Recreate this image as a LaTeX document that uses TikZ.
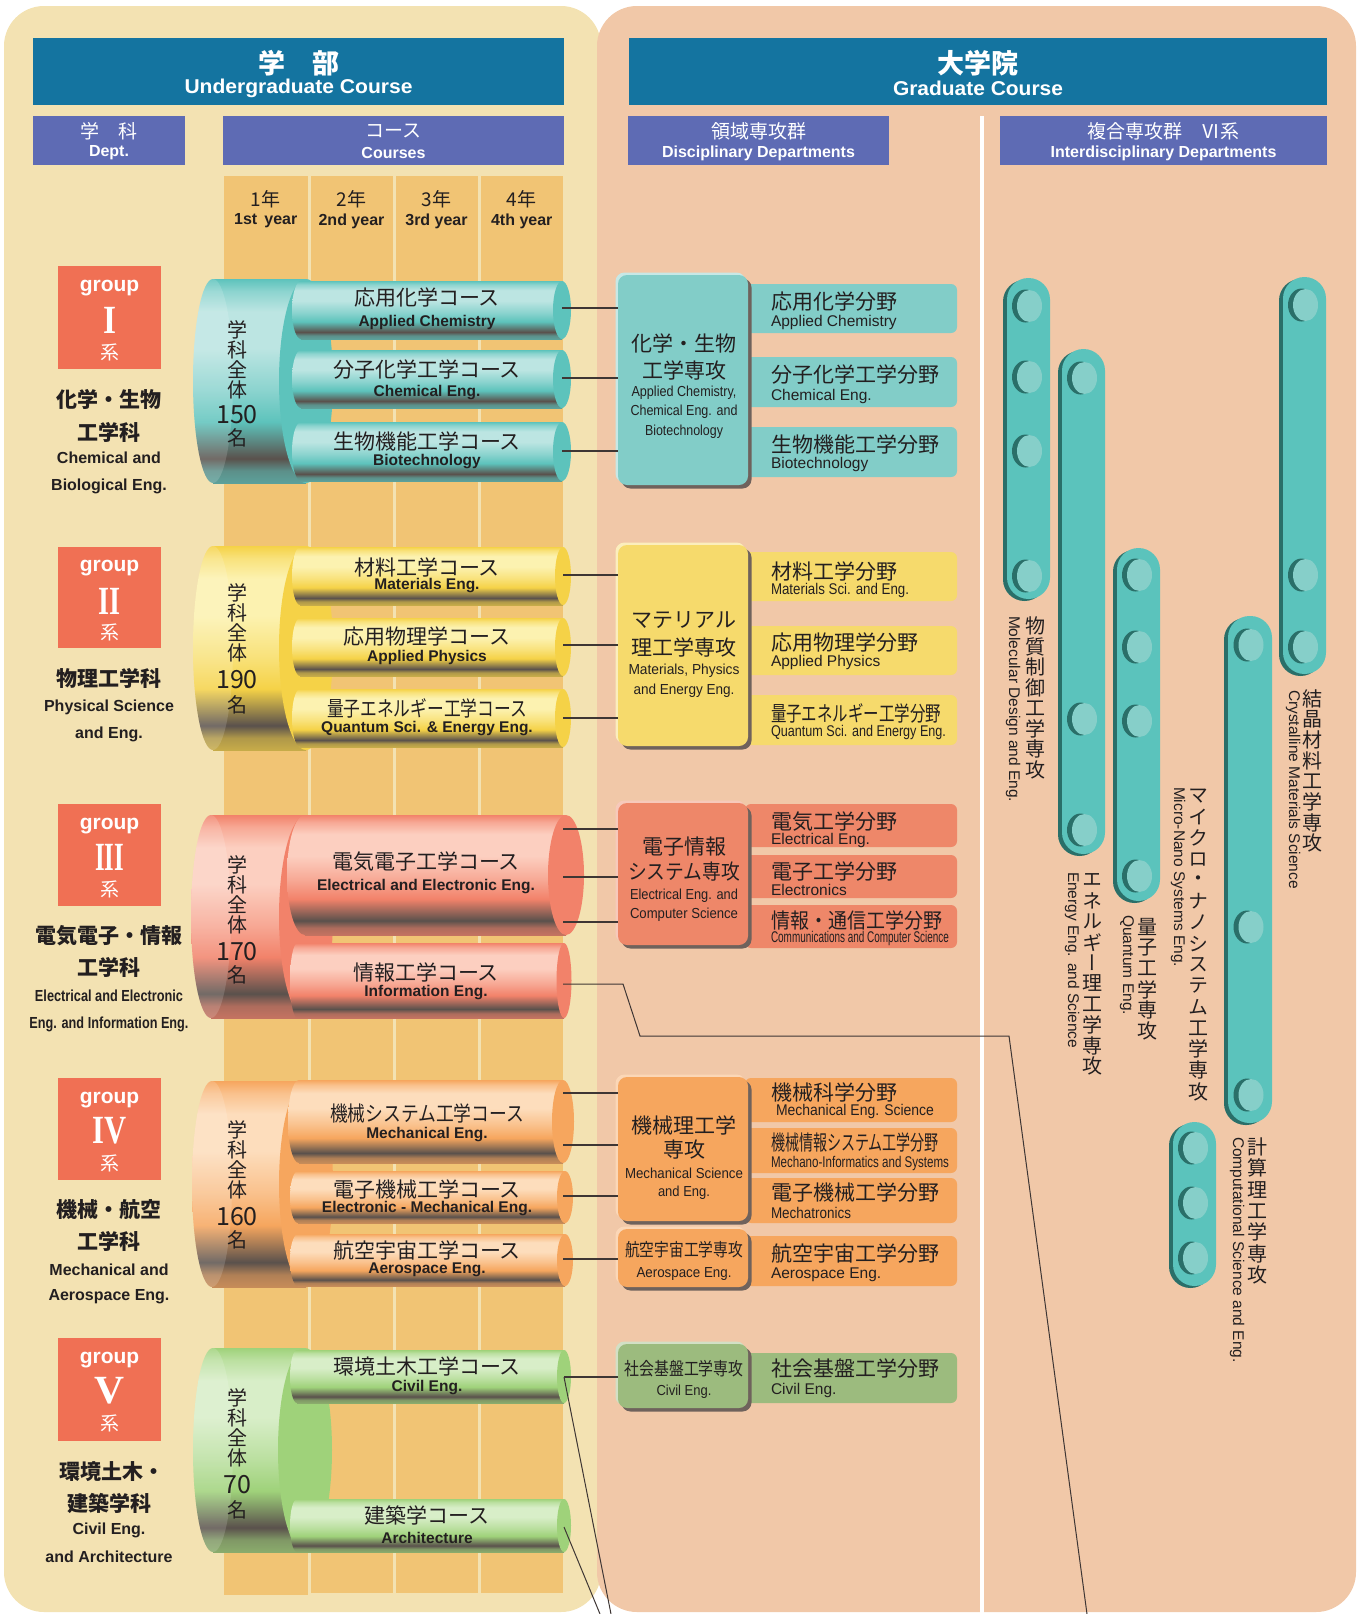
\documentclass[tikz,border=0pt]{standalone}
\usepackage{fontspec}
\usepackage{graphicx}
\setmainfont{Liberation Sans}
\newfontfamily\jp{Noto Sans CJK JP}
\newfontfamily\jpv[RawFeature=+vert]{Noto Sans CJK JP}
\newfontfamily\rmserif{Liberation Serif}
\usetikzlibrary{shadows}

\newcommand\fw[2]{\resizebox{#1}{\height}{#2}}

\definecolor{cream}{HTML}{F3E2B2}
\definecolor{peach}{HTML}{F1C8A8}
\definecolor{hblue}{HTML}{1474A0}
\definecolor{hpurple}{HTML}{5E6BB4}
\definecolor{yearc}{HTML}{F1C474}
\definecolor{grpc}{HTML}{F07054}
\definecolor{ink}{HTML}{231F20}
\definecolor{lnc}{HTML}{3E3634}
\definecolor{cdark}{HTML}{5A514C}
\definecolor{IbaseC}{HTML}{5DC3BC}\definecolor{IlightC}{HTML}{BCE5E2}
\definecolor{IIbaseC}{HTML}{F5D247}\definecolor{IIlightC}{HTML}{FCF2B0}
\definecolor{IIIbaseC}{HTML}{F2826A}\definecolor{IIIlightC}{HTML}{FCCFC0}
\definecolor{IVbaseC}{HTML}{F6A65E}\definecolor{IVlightC}{HTML}{FDDDBC}
\definecolor{VbaseC}{HTML}{9FD27A}\definecolor{VlightC}{HTML}{D8EEC8}
\definecolor{IboxC}{HTML}{82CDC8}
\definecolor{IIboxC}{HTML}{F6DA6C}
\definecolor{IIIboxC}{HTML}{EE8769}
\definecolor{IVboxC}{HTML}{F6A65E}
\definecolor{VboxC}{HTML}{9CBB7E}
\definecolor{boxsh}{HTML}{6F625C}
\definecolor{barC}{HTML}{5BC3BC}
\definecolor{barD}{HTML}{2A6F69}
\definecolor{barL}{HTML}{86CFC9}

\newcommand\declcyl[3]{\pgfdeclareverticalshading{#1}{100bp}{%
 color(0bp)=(#2!70!cdark); color(25bp)=(#2!70!cdark); color(28bp)=(#2!55!cdark);
 color(31bp)=(cdark); color(35bp)=(#2!45!cdark); color(40bp)=(#2);
 color(48bp)=(#3!50!#2); color(58bp)=(#3); color(67bp)=(#3);
 color(72bp)=(#3!50!#2); color(75bp)=(#2); color(100bp)=(#2)}}
\declcyl{cylI}{IbaseC}{IlightC}
\declcyl{cylII}{IIbaseC}{IIlightC}
\declcyl{cylIII}{IIIbaseC}{IIIlightC}
\declcyl{cylIV}{IVbaseC}{IVlightC}
\declcyl{cylV}{VbaseC}{VlightC}

% shading, base, xleft, xcap, top, bottom, rx
\newcommand\course[7]{%
  \shade[shading=#1] (#3+#7,#5) rectangle (#4,#6);
  \shade[shading=#1] ({#3+#7},{(#5+#6)/2}) ellipse [x radius=#7, y radius={(#6-#5)/2}];
  \fill[#2] (#4,{(#5+#6)/2}) ellipse [x radius=#7, y radius={(#6-#5)/2}];}
% shading, base, cxL, rxL, cxR, top, bottom
\newcommand\bigcyl[7]{%
  \shade[shading=#1] (#3,#6) rectangle (#5,#7);
  \shade[shading=#1] (#3,{(#6+#7)/2}) ellipse [x radius=#4, y radius={(#7-#6)/2}];
  \fill[white, opacity=0.15] (#3,{(#6+#7)/2}) ellipse [x radius=#4, y radius={(#7-#6)/2}];
  \fill[#2] (#5,{(#6+#7)/2}) ellipse [x radius=27, y radius={(#7-#6)/2}];}
% xa, xb, top, bottom
\newcommand\vbar[4]{%
  \fill[barD, rounded corners=21.5pt] (#1,#3+2) rectangle (#2-4,#4);
  \fill[barC, rounded corners=21.5pt] (#1+4,#3) rectangle (#2,#4-2);}
\newcommand\bdot[2]{%
  \fill[barD] (#1-3,#2) ellipse [x radius=13.5, y radius=16.5];
  \fill[barL] (#1+1,#2) ellipse [x radius=12.5, y radius=16];}

\begin{document}
\begin{tikzpicture}[x=1pt,y=-1pt,
 every node/.style={inner sep=0pt, outer sep=0pt, text=ink},
 conn/.style={draw=lnc, line width=1.4pt},
 thinconn/.style={draw=lnc, line width=1pt},
 hdrbox/.style={fill=hblue, minimum width=#1, minimum height=67pt},
 subbox/.style={fill=hpurple, minimum width=#1, minimum height=49pt},
 hjp/.style={text=white, font=\jp\bfseries\fontsize{27}{27}\selectfont},
 hen/.style={text=white, font=\bfseries\fontsize{20}{20}\selectfont},
 sjp/.style={text=white, font=\jp\fontsize{19}{19}\selectfont},
 sen/.style={text=white, font=\bfseries\fontsize{16}{16}\selectfont},
 yjp/.style={font=\jp\fontsize{19}{19}\selectfont},
 yen/.style={font=\bfseries\fontsize{16}{16}\selectfont},
 grpbox/.style={fill=grpc, minimum width=103pt, minimum height=#1},
 gword/.style={text=white, font=\bfseries\fontsize{21}{21}\selectfont},
 gnum/.style={text=white, font=\rmserif\bfseries\fontsize{40}{40}\selectfont},
 gkei/.style={text=white, font=\jp\fontsize{19}{19}\selectfont},
 djp/.style={font=\jp\bfseries\fontsize{21}{21}\selectfont},
 den/.style={font=\bfseries\fontsize{16}{16}\selectfont},
 vnum/.style={font=\jp\fontsize{20}{20}\selectfont},
 vdig/.style={font=\jp\fontsize{25}{25}\selectfont},
 cjp/.style={font=\jp\fontsize{21}{21}\selectfont},
 cen/.style={font=\bfseries\fontsize{15.5}{15.5}\selectfont},
 majbox/.style={fill=#1, rounded corners=9pt, minimum width=130pt,
   general shadow={shadow xshift=-2.5pt, shadow yshift=2.5pt, fill=#1!45!white},
   general shadow={shadow xshift=3.5pt, shadow yshift=-3.5pt, fill=boxsh}},
 fldbox/.style={fill=#1, rounded corners=6pt, minimum width=212pt},
 mjp/.style={font=\jp\fontsize{21}{21}\selectfont},
 msjp/.style={font=\jp\fontsize{18}{18}\selectfont},
 men/.style={font=\fontsize{14.5}{14.5}\selectfont},
 fjp/.style={anchor=west, font=\jp\fontsize{21}{21}\selectfont},
 fen/.style={anchor=west, font=\fontsize{15.5}{15.5}\selectfont},
 vjp/.style={font=\jpv\fontsize{20}{20}\selectfont},
 ven/.style={rotate=-90, anchor=west, font=\fontsize{15.5}{15.5}\selectfont}]
\useasboundingbox (0,0) rectangle (1359,1614);

% panels
\fill[cream, rounded corners=40pt] (4,6) rectangle (601,1612);
\fill[peach, rounded corners=40pt] (597,6) rectangle (1356,1612);
\fill[white] (980,116) rectangle (984,1614);

% headers
\node[hdrbox=531pt] (hU) at (298.5,71.5) {};
\node[hjp] (hUj) at (298.5,63) {学　部};
\node[hen] (hUe) at (298.5,88) {\fw{228pt}{Undergraduate Course}};
\node[hdrbox=698pt] (hG) at (978,71.5) {};
\node[hjp] (hGj) at (978,63) {大学院};
\node[hen] (hGe) at (978,88) {\fw{170pt}{Graduate Course}};

\node[subbox=152pt] (sD) at (109,140.5) {};
\node[sjp] (sDj) at (109,131) {学　科};
\node[sen] (sDe) at (109,153) {Dept.};
\node[subbox=341pt] (sC) at (393.5,140.5) {};
\node[sjp] (sCj) at (393.5,131) {コース};
\node[sen] (sCe) at (393.5,153) {Courses};
\node[subbox=261pt] (sR) at (758.5,140.5) {};
\node[sjp] (sRj) at (758.5,131) {領域専攻群};
\node[sen] (sRe) at (758.5,153) {Disciplinary Departments};
\node[subbox=327pt] (sF) at (1163.5,140.5) {};
\node[sjp] (sFj) at (1163.5,131) {複合専攻群　Ⅵ系};
\node[sen] (sFe) at (1163.5,153) {Interdisciplinary Departments};

% year columns
\fill[yearc] (224,176) rectangle (307.5,1595);
\fill[yearc] (310.5,176) rectangle (392.5,1593);
\fill[yearc] (395.5,176) rectangle (477.5,1593);
\fill[yearc] (480.5,176) rectangle (563,1593);
\node[yjp] (y1j) at (265.75,199) {1年};
\node[yen] (y1e) at (265.75,221) {1st\hspace{0.45em}year};
\node[yjp] (y2j) at (351.5,199) {2年};
\node[yen] (y2e) at (351.5,221) {2nd year};
\node[yjp] (y3j) at (436.5,199) {3年};
\node[yen] (y3e) at (436.5,221) {3rd year};
\node[yjp] (y4j) at (521.75,199) {4年};
\node[yen] (y4e) at (521.75,221) {4th year};

% group boxes
\node[grpbox=103pt] (g1) at (109.5,317.5) {};
\node[gword] (g1a) at (109.5,288) {group};
\node[gnum] (g1b) at (109.5,320) {\fw{13pt}{I}};
\node[gkei] (g1c) at (109.5,352) {系};
\node[grpbox=101pt] (g2) at (109.5,597.5) {};
\node[gword] (g2a) at (109.5,568) {group};
\node[gnum] (g2b) at (109.5,601) {\fw{22pt}{II}};
\node[gkei] (g2c) at (109.5,632) {系};
\node[grpbox=102pt] (g3) at (109.5,855) {};
\node[gword] (g3a) at (109.5,826) {group};
\node[gnum] (g3b) at (109.5,857) {\fw{29pt}{III}};
\node[gkei] (g3c) at (109.5,889) {系};
\node[grpbox=102pt] (g4) at (109.5,1129) {};
\node[gword] (g4a) at (109.5,1100) {group};
\node[gnum] (g4b) at (109.5,1131) {\fw{34pt}{IV}};
\node[gkei] (g4c) at (109.5,1163) {系};
\node[grpbox=103pt] (g5) at (109.5,1389.5) {};
\node[gword] (g5a) at (109.5,1360) {group};
\node[gnum] (g5b) at (109.5,1391) {\fw{30pt}{V}};
\node[gkei] (g5c) at (109.5,1423) {系};

% department labels
\node[djp] (d1a) at (109,399) {化学・生物};
\node[djp] (d1b) at (109,432) {工学科};
\node[den] (d1c) at (109,458) {Chemical and};
\node[den] (d1d) at (109,486) {Biological Eng.};
\node[djp] (d2a) at (109,678) {物理工学科};
\node[den] (d2b) at (109,707) {Physical Science};
\node[den] (d2c) at (109,734) {and Eng.};
\node[djp] (d3a) at (109,936) {電気電子・情報};
\node[djp] (d3b) at (109,967) {工学科};
\node[den] (d3c) at (109,996) {\fw{148pt}{Electrical and Electronic}};
\node[den] (d3d) at (109,1024) {\fw{159pt}{Eng. and Information Eng.}};
\node[djp] (d4a) at (109,1210) {機械・航空};
\node[djp] (d4b) at (109,1241) {工学科};
\node[den] (d4c) at (109,1270) {Mechanical and};
\node[den] (d4d) at (109,1297) {Aerospace Eng.};
\node[djp] (d5a) at (112,1472) {環境土木・};
\node[djp] (d5b) at (109,1503) {建築学科};
\node[den] (d5c) at (109,1530) {Civil Eng.};
\node[den] (d5d) at (109,1557) {and Architecture};

% big cylinders
\bigcyl{cylI}{IbaseC}{213}{20}{306}{279}{483}
\bigcyl{cylII}{IIbaseC}{213}{20}{306}{546}{750}
\bigcyl{cylIII}{IIIbaseC}{211}{20}{306}{815}{1018}
\bigcyl{cylIV}{IVbaseC}{212}{20}{306}{1081}{1287}
\bigcyl{cylV}{VbaseC}{213}{20}{305}{1348}{1552}

\foreach \c [count=\i from 0] in {学,科,全,体} {\node[vnum] (nI\i) at (237,330+20*\i) {\c};}
\node[vdig] (nIn) at (237,415) {150};
\node[vnum] (nIm) at (237,438) {名};
\foreach \c [count=\i from 0] in {学,科,全,体} {\node[vnum] (nII\i) at (237,593+20*\i) {\c};}
\node[vdig] (nIIn) at (237,680) {190};
\node[vnum] (nIIm) at (237,705) {名};
\foreach \c [count=\i from 0] in {学,科,全,体} {\node[vnum] (nIII\i) at (237,865+20*\i) {\c};}
\node[vdig] (nIIIn) at (237,952) {170};
\node[vnum] (nIIIm) at (237,975) {名};
\foreach \c [count=\i from 0] in {学,科,全,体} {\node[vnum] (nIV\i) at (237,1130+20*\i) {\c};}
\node[vdig] (nIVn) at (237,1217) {160};
\node[vnum] (nIVm) at (237,1240) {名};
\foreach \c [count=\i from 0] in {学,科,全,体} {\node[vnum] (nV\i) at (237,1398+20*\i) {\c};}
\node[vdig] (nVn) at (237,1485) {70};
\node[vnum] (nVm) at (237,1510) {名};

% course cylinders
\course{cylI}{IbaseC}{292}{562}{281}{339}{9}
\course{cylI}{IbaseC}{292}{562}{350}{408}{9}
\course{cylI}{IbaseC}{292}{562}{422}{481}{9}
\node[cjp] (cI1j) at (427,298) {応用化学コース};
\node[cen] (cI1e) at (427,322) {Applied Chemistry};
\node[cjp] (cI2j) at (427,370) {分子化学工学コース};
\node[cen] (cI2e) at (427,393) {Chemical Eng.};
\node[cjp] (cI3j) at (427,441) {生物機能工学コース};
\node[cen] (cI3e) at (427,462) {Biotechnology};

\course{cylII}{IIbaseC}{292}{563}{547}{605}{8}
\course{cylII}{IIbaseC}{292}{563}{618}{676}{8}
\course{cylII}{IIbaseC}{292}{563}{689}{747}{8}
\node[cjp] (cII1j) at (427,567) {材料工学コース};
\node[cen] (cII1e) at (427,586) {Materials Eng.};
\node[cjp] (cII2j) at (427,637) {応用物理学コース};
\node[cen] (cII2e) at (427,657) {Applied Physics};
\node[cjp] (cII3j) at (427,708) {\fw{200pt}{量子エネルギー工学コース}};
\node[cen] (cII3e) at (427,729) {Quantum Sci. \& Energy Eng.};

\course{cylIII}{IIIbaseC}{287}{566}{815}{935}{18}
\course{cylIII}{IIIbaseC}{290}{564}{943}{1018}{7.5}
\node[cjp] (cIII1j) at (426,862) {電気電子工学コース};
\node[cen] (cIII1e) at (426,887) {Electrical and Electronic Eng.};
\node[cjp] (cIII2j) at (426,972) {情報工学コース};
\node[cen] (cIII2e) at (426,993) {Information Eng.};

\course{cylIV}{IVbaseC}{288}{563}{1080}{1163}{11}
\course{cylIV}{IVbaseC}{290}{565}{1171}{1223}{8}
\course{cylIV}{IVbaseC}{290}{565}{1234}{1286}{8}
\node[cjp] (cIV1j) at (427,1113) {\fw{194pt}{機械システム工学コース}};
\node[cen] (cIV1e) at (427,1135) {Mechanical Eng.};
\node[cjp] (cIV2j) at (427,1189) {電子機械工学コース};
\node[cen] (cIV2e) at (427,1209) {Electronic - Mechanical Eng.};
\node[cjp] (cIV3j) at (427,1250) {航空宇宙工学コース};
\node[cen] (cIV3e) at (427,1270) {Aerospace Eng.};

\course{cylV}{VbaseC}{290}{564}{1350}{1403}{7}
\course{cylV}{VbaseC}{290}{564}{1499}{1552}{7}
\node[cjp] (cV1j) at (427,1366) {環境土木工学コース};
\node[cen] (cV1e) at (427,1388) {Civil Eng.};
\node[cjp] (cV2j) at (427,1515) {建築学コース};
\node[cen] (cV2e) at (427,1538) {Architecture};

% connector anchor points
\coordinate (kI1) at (562,308);
\coordinate (kI2) at (562,378);
\coordinate (kI3) at (562,451);
\coordinate (kII1) at (563,575);
\coordinate (kII2) at (563,645);
\coordinate (kII3) at (563,718);
\coordinate (kIII1) at (563,829);
\coordinate (kIII2) at (563,877);
\coordinate (kIII3) at (563,922);
\coordinate (kIII4) at (563,984);
\coordinate (kIV1) at (563,1093);
\coordinate (kIV2) at (563,1145);
\coordinate (kIV3) at (563,1196);
\coordinate (kIV4) at (563,1259);
\coordinate (kV1) at (564,1377);
\coordinate (kV2) at (564,1527);
\coordinate (bA1) at (623,984);
\coordinate (bA2) at (640,1036);
\coordinate (bA3) at (1009,1036);
\coordinate (eA) at (1087,1614);
\coordinate (eB) at (611,1614);
\coordinate (eC) at (600,1614);

% field boxes
\node[fldbox=IboxC, minimum height=49pt] (fI1) at (851,308.5) {};
\node[fldbox=IboxC, minimum height=50pt] (fI2) at (851,382) {};
\node[fldbox=IboxC, minimum height=50pt] (fI3) at (851,452) {};
\node[fldbox=IIboxC, minimum height=49pt] (fII1) at (851,576.5) {};
\node[fldbox=IIboxC, minimum height=49pt] (fII2) at (851,650.5) {};
\node[fldbox=IIboxC, minimum height=50pt] (fII3) at (851,720) {};
\node[fldbox=IIIboxC, minimum height=43pt] (fIII1) at (851,825.5) {};
\node[fldbox=IIIboxC, minimum height=43pt] (fIII2) at (851,876.5) {};
\node[fldbox=IIIboxC, minimum height=43pt] (fIII3) at (851,926.5) {};
\node[fldbox=IVboxC, minimum height=44pt] (fIV1) at (851,1100) {};
\node[fldbox=IVboxC, minimum height=45pt] (fIV2) at (851,1150.5) {};
\node[fldbox=IVboxC, minimum height=45pt] (fIV3) at (851,1200.5) {};
\node[fldbox=IVboxC, minimum height=50pt] (fA) at (851,1261) {};
\node[fldbox=VboxC, minimum height=50pt] (fV) at (851,1378) {};

% major boxes
\node[majbox=IboxC, minimum height=210pt] (mI) at (683,380) {};
\node[majbox=IIboxC, minimum height=201pt] (mII) at (683,645.5) {};
\node[majbox=IIIboxC, minimum height=142pt] (mIII) at (683,874) {};
\node[majbox=IVboxC, minimum height=144pt] (mIV) at (683,1149) {};
\node[majbox=IVboxC, minimum height=58pt] (mA) at (683,1258) {};
\node[majbox=VboxC, minimum height=64pt] (mV) at (683,1376) {};

% connectors
\draw[conn] (kI1) -- (kI1 -| mI.west);
\draw[conn] (kI2) -- (kI2 -| mI.west);
\draw[conn] (kI3) -- (kI3 -| mI.west);
\draw[conn] (kII1) -- (kII1 -| mII.west);
\draw[conn] (kII2) -- (kII2 -| mII.west);
\draw[conn] (kII3) -- (kII3 -| mII.west);
\draw[conn] (kIII1) -- (kIII1 -| mIII.west);
\draw[conn] (kIII2) -- (kIII2 -| mIII.west);
\draw[conn] (kIII3) -- (kIII3 -| mIII.west);
\draw[conn] (kIV1) -- (kIV1 -| mIV.west);
\draw[conn] (kIV2) -- (kIV2 -| mIV.west);
\draw[conn] (kIV3) -- (kIV3 -| mIV.west);
\draw[conn] (kIV4) -- (kIV4 -| mA.west);
\draw[conn] (kV1) -- (kV1 -| mV.west);

% major texts
\node[mjp] (tI1) at (684,343) {化学・生物};
\node[mjp] (tI2) at (684,370) {工学専攻};
\node[men] (tI3) at (684,393) {\fw{105pt}{Applied Chemistry,}};
\node[men] (tI4) at (684,412) {\fw{107pt}{Chemical Eng. and}};
\node[men] (tI5) at (684,432) {\fw{78pt}{Biotechnology}};
\node[mjp] (tII1) at (684,620) {マテリアル};
\node[mjp] (tII2) at (684,647) {理工学専攻};
\node[men] (tII3) at (684,671) {\fw{111pt}{Materials, Physics}};
\node[men] (tII4) at (684,691) {\fw{101pt}{and Energy Eng.}};
\node[mjp] (tIII1) at (684,847) {電子情報};
\node[mjp] (tIII2) at (684,872) {\fw{112pt}{システム専攻}};
\node[men] (tIII3) at (684,896) {\fw{108pt}{Electrical Eng. and}};
\node[men] (tIII4) at (684,915) {\fw{108pt}{Computer Science}};
\node[mjp] (tIV1) at (684,1125) {機械理工学};
\node[mjp] (tIV2) at (684,1150) {専攻};
\node[men] (tIV3) at (684,1173) {\fw{118pt}{Mechanical Science}};
\node[men] (tIV4) at (684,1193) {\fw{52pt}{and Eng.}};
\node[msjp] (tA1) at (684,1250) {\fw{118pt}{航空宇宙工学専攻}};
\node[men] (tA2) at (684,1274) {\fw{95pt}{Aerospace Eng.}};
\node[msjp] (tV1) at (684,1369) {\fw{119pt}{社会基盤工学専攻}};
\node[men] (tV2) at (684,1392) {\fw{55pt}{Civil Eng.}};

% field texts
\node[fjp] (uI1) at (771,302) {応用化学分野};
\node[fen] (uI1e) at (771,322) {Applied Chemistry};
\node[fjp] (uI2) at (771,375) {分子化学工学分野};
\node[fen] (uI2e) at (771,396) {Chemical Eng.};
\node[fjp] (uI3) at (771,445) {生物機能工学分野};
\node[fen] (uI3e) at (771,464) {Biotechnology};
\node[fjp] (uII1) at (771,572) {材料工学分野};
\node[fen] (uII1e) at (771,590) {\fw{138pt}{Materials Sci. and Eng.}};
\node[fjp] (uII2) at (771,643) {応用物理学分野};
\node[fen] (uII2e) at (771,662) {Applied Physics};
\node[fjp] (uII3) at (771,713) {\fw{170pt}{量子エネルギー工学分野}};
\node[fen] (uII3e) at (771,732) {\fw{175pt}{Quantum Sci. and Energy Eng.}};
\node[fjp] (uIII1) at (771,822) {電気工学分野};
\node[fen] (uIII1e) at (771,840) {Electrical Eng.};
\node[fjp] (uIII2) at (771,872) {電子工学分野};
\node[fen] (uIII2e) at (771,890) {Electronics};
\node[fjp] (uIII3) at (771,921) {\fw{171pt}{情報・通信工学分野}};
\node[fen] (uIII3e) at (771,938) {\fw{178pt}{Communications and Computer Science}};
\node[fjp] (uIV1) at (771,1093) {機械科学分野};
\node[fen] (uIV1e) at (776,1111) {\fw{158pt}{Mechanical Eng. Science}};
\node[fjp] (uIV2) at (771,1143) {\fw{168pt}{機械情報システム工学分野}};
\node[fen] (uIV2e) at (771,1163) {\fw{178pt}{Mechano-Informatics and Systems}};
\node[fjp] (uIV3) at (771,1193) {電子機械工学分野};
\node[fen] (uIV3e) at (771,1213) {\fw{80pt}{Mechatronics}};
\node[fjp] (uA) at (771,1254) {航空宇宙工学分野};
\node[fen] (uAe) at (771,1275) {Aerospace Eng.};
\node[fjp] (uV) at (771,1369) {社会基盤工学分野};
\node[fen] (uVe) at (771,1390) {Civil Eng.};

% interdisciplinary bars
\vbar{1003}{1050}{278}{601}
\foreach \yy in {306,377,451,576} {\bdot{1028.5}{\yy}}
\vbar{1058}{1105}{349}{856}
\foreach \yy in {378,719,830} {\bdot{1083.5}{\yy}}
\vbar{1113}{1160}{548}{903}
\foreach \yy in {575,647,721,876} {\bdot{1138.5}{\yy}}
\vbar{1224}{1272}{616}{1125}
\foreach \yy in {645,927,1095} {\bdot{1250}{\yy}}
\vbar{1279}{1326}{277}{676}
\foreach \yy in {305,575,647} {\bdot{1304.5}{\yy}}
\vbar{1169}{1216}{1122}{1288}
\foreach \yy in {1148,1203,1258} {\bdot{1194.5}{\yy}}

% bar labels
\foreach \c [count=\i from 0] in {物,質,制,御,工,学,専,攻} {\node[vjp] (vA\i) at (1035,626+20.5*\i) {\c};}
\node[ven] (vAe) at (1013,616) {Molecular Design and Eng.};
\foreach \c [count=\i from 0] in {エ,ネ,ル,ギ,ー,理,工,学,専,攻} {\node[vjp] (vB\i) at (1092,880+20.7*\i) {\c};}
\node[ven] (vBe) at (1072,872) {Energy Eng. and Science};
\foreach \c [count=\i from 0] in {量,子,工,学,専,攻} {\node[vjp] (vC\i) at (1147,927+20.8*\i) {\c};}
\node[ven] (vCe) at (1127,915) {Quantum Eng.};
\foreach \c [count=\i from 0] in {マ,イ,ク,ロ,・,ナ,ノ,シ,ス,テ,ム,工,学,専,攻} {\node[vjp] (vD\i) at (1198,796+21.1*\i) {\c};}
\node[ven] (vDe) at (1178,787) {Micro-Nano Systems Eng.};
\foreach \c [count=\i from 0] in {結,晶,材,料,工,学,専,攻} {\node[vjp] (vE\i) at (1312,699+20.6*\i) {\c};}
\node[ven] (vEe) at (1293,690) {Crystalline Materials Science};
\foreach \c [count=\i from 0] in {計,算,理,工,学,専,攻} {\node[vjp] (vF\i) at (1257,1147+21.3*\i) {\c};}
\node[ven] (vFe) at (1237,1137) {Computational Science and Eng.};

% long connectors
\draw[thinconn] (kIII4) -- (bA1) -- (bA2) -- (bA3) -- (eA);
\draw[thinconn] (kV1) -- (eB);
\draw[thinconn] (kV2) -- (eC);
\end{tikzpicture}
\end{document}
